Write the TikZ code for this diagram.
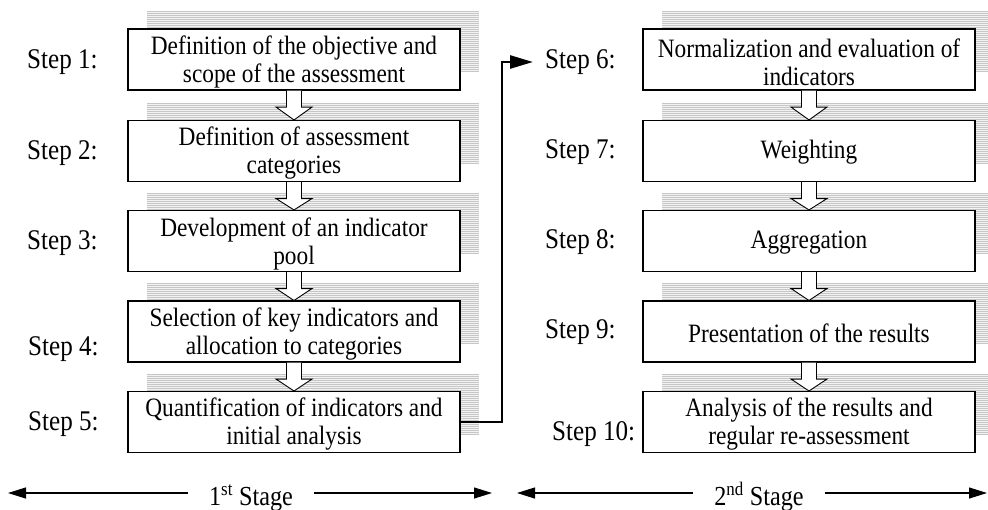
\documentclass[tikz,border=0pt]{standalone}
\usepackage{fontspec}
\setmainfont[FakeStretch=0.88]{Liberation Serif}
\usetikzlibrary{arrows.meta}
\begin{document}
\begin{tikzpicture}[x=1pt,y=-1pt,
  stepbox/.style={draw, line width=1.1pt, fill=white, minimum width=332pt, minimum height=61pt, inner sep=0pt},
  boxtext/.style={align=center, inner sep=0pt, yshift=-2.5pt, font=\fontsize{26.5}{28}\selectfont},
  steplabel/.style={anchor=base west, inner sep=0pt, font=\fontsize{28.5}{28}\selectfont},
  stagelabel/.style={anchor=base, inner xsep=21pt, inner ysep=0pt, font=\fontsize{27.5}{28}\selectfont},
  harrow/.style={draw, line width=0.9pt, fill=white, line join=miter},
  conn/.style={line width=2.6pt, -{Triangle[length=23pt,width=13pt]}},
  stagearrow/.style={line width=1.1pt, -{Triangle[length=18pt,width=11pt]}}]
\useasboundingbox (0,0) rectangle (988,509);
% hatched shadows
\foreach \cx in {294,809}{
  \foreach \cy in {59.5,151,241,331.5,422}{
    \begin{scope}
      \clip ({\cx-147},{\cy-48.5}) rectangle ++(332,61);
      \fill[gray!10] ({\cx-147},{\cy-48.5}) rectangle ++(332,61);
      \foreach \k in {0,...,30}{
        \draw[gray!45, line width=0.8pt] ({\cx-147},{\cy-48+2*\k}) -- ++(332,0);
      }
    \end{scope}
  }
}
% boxes
\node[stepbox, label={[boxtext]center:{Definition of the objective and\\scope of the assessment}}] (b1) at (294,59.5) {};
\node[stepbox, label={[boxtext]center:{Definition of assessment\\categories}}] (b2) at (294,151) {};
\node[stepbox, label={[boxtext]center:{Development of an indicator\\pool}}] (b3) at (294,241) {};
\node[stepbox, label={[boxtext]center:{Selection of key indicators and\\allocation to categories}}] (b4) at (294,331.5) {};
\node[stepbox, label={[boxtext]center:{Quantification of indicators and\\initial analysis}}] (b5) at (294,422) {};
\node[stepbox, label={[boxtext]center:{Normalization and evaluation of\\indicators}}] (b6) at (809,59.5) {};
\node[stepbox, label={[boxtext,yshift=1pt]center:{Weighting}}] (b7) at (809,151) {};
\node[stepbox, label={[boxtext,yshift=1pt]center:{Aggregation}}] (b8) at (809,241) {};
\node[stepbox, label={[boxtext,yshift=1pt]center:{Presentation of the results}}] (b9) at (809,331.5) {};
\node[stepbox, label={[boxtext]center:{Analysis of the results and\\regular re-assessment}}] (b10) at (809,422) {};
% hollow arrows
\newcommand\hollowarrow[2]{%
  \draw[harrow] ([xshift=-7.5pt]#1.south) -- ([xshift=-7.5pt,yshift=-16.5pt]#1.south)
    -- ([xshift=-18pt,yshift=-16.5pt]#1.south) -- (#2.north)
    -- ([xshift=18pt,yshift=-16.5pt]#1.south) -- ([xshift=7.5pt,yshift=-16.5pt]#1.south)
    -- ([xshift=7.5pt]#1.south);}
\hollowarrow{b1}{b2}
\hollowarrow{b2}{b3}
\hollowarrow{b3}{b4}
\hollowarrow{b4}{b5}
\hollowarrow{b6}{b7}
\hollowarrow{b7}{b8}
\hollowarrow{b8}{b9}
\hollowarrow{b9}{b10}
% step labels
\node[steplabel] (l1) at (27,68) {Step 1:};
\node[steplabel] (l2) at (27,159) {Step 2:};
\node[steplabel] (l3) at (27,249) {Step 3:};
\node[steplabel] (l4) at (28,355) {Step 4:};
\node[steplabel] (l5) at (28,430) {Step 5:};
\node[steplabel] (l6) at (545,68) {Step 6:};
\node[steplabel] (l7) at (545,158) {Step 7:};
\node[steplabel] (l8) at (545,248) {Step 8:};
\node[steplabel] (l9) at (545,338) {Step 9:};
\node[steplabel] (l10) at (552,440) {Step 10:};
% connector from step 5 to step 6
\coordinate (turn) at (502,422);
\coordinate (a6) at (533,62);
\draw[conn] (b5.east) -- (turn) |- (a6);
% stage arrows
\node[stagelabel] (st1) at (251,505) {1\textsuperscript{st} Stage};
\node[stagelabel] (st2) at (759,505) {2\textsuperscript{nd} Stage};
\coordinate (s1l) at (8,493);
\coordinate (s1r) at (492,493);
\coordinate (s2l) at (517,493);
\coordinate (s2r) at (987,493);
\draw[stagearrow] (st1.west |- s1l) -- (s1l);
\draw[stagearrow] (st1.east |- s1r) -- (s1r);
\draw[stagearrow] (st2.west |- s2l) -- (s2l);
\draw[stagearrow] (st2.east |- s2r) -- (s2r);
\end{tikzpicture}
\end{document}
